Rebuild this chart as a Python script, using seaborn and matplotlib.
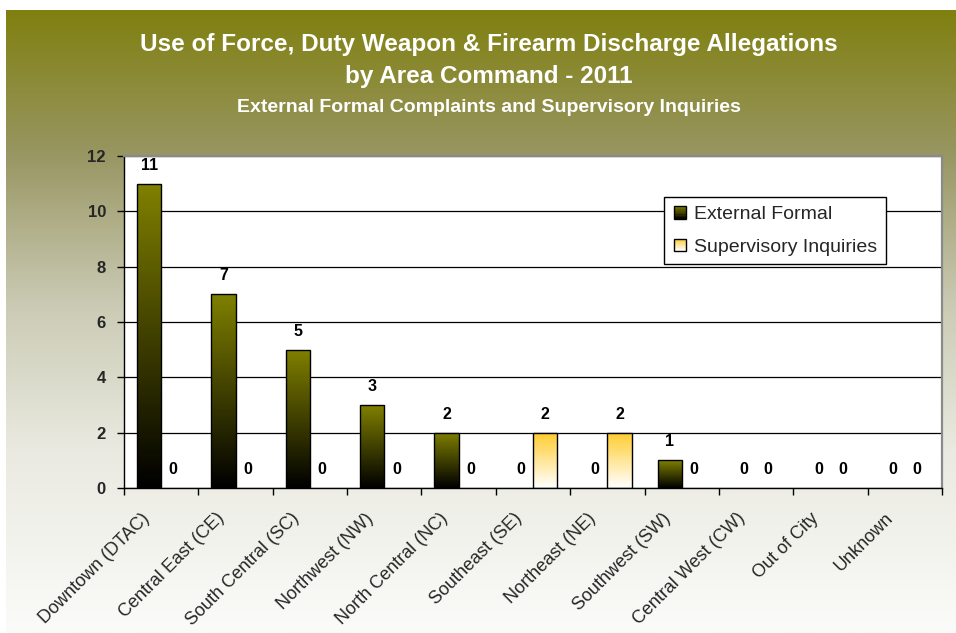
import numpy as np
import pandas as pd
import matplotlib
matplotlib.use("Agg")
import matplotlib.pyplot as plt
import matplotlib.transforms as mtransforms
import seaborn as sns
from matplotlib.legend_handler import HandlerBase
from matplotlib.patches import Rectangle
from matplotlib.colors import LinearSegmentedColormap

# ---- data -------------------------------------------------------------
areas = ["Downtown (DTAC)", "Central East (CE)", "South Central (SC)",
         "Northwest (NW)", "North Central (NC)", "Southeast (SE)",
         "Northeast (NE)", "Southwest (SW)", "Central West (CW)",
         "Out of City", "Unknown"]
external_formal = [11, 7, 5, 3, 2, 0, 0, 1, 0, 0, 0]
supervisory_inquiries = [0, 0, 0, 0, 0, 2, 2, 0, 0, 0, 0]
series_names = ["External Formal", "Supervisory Inquiries"]
y_ticks = [0, 2, 4, 6, 8, 10, 12]

title_lines = ["Use of Force, Duty Weapon & Firearm Discharge Allegations",
               "by Area Command - 2011"]
subtitle = "External Formal Complaints and Supervisory Inquiries"

df = pd.DataFrame({
    "area": areas * 2,
    "count": external_formal + supervisory_inquiries,
    "type": [series_names[0]] * len(areas) + [series_names[1]] * len(areas),
})

# bar fill gradients (top colour, bottom colour)
grad_colors = {
    series_names[0]: ((0.50, 0.50, 0.0), (0.0, 0.0, 0.0)),
    series_names[1]: ((1.0, 0.80, 0.18), (1.0, 1.0, 1.0)),
}

# ---- figure -----------------------------------------------------------
sns.set_style("ticks")
plt.rcParams["font.family"] = ["Liberation Sans", "DejaVu Sans"]

W, H = 956, 633
fig = plt.figure(figsize=(W / 100, H / 100), dpi=100)
fig.patch.set_facecolor("white")

# olive-to-white backdrop panel
bg = fig.add_axes([6 / W, 0, 1 - 6 / W, 1 - 10 / H], zorder=-10)
stops_y = np.array([0.0, 0.23, 0.47, 0.71, 1.0])
stops_c = np.array([[128, 128, 16], [152, 150, 98], [202, 202, 180],
                    [234, 234, 225], [251, 251, 249]]) / 255.0
ys = np.linspace(0, 1, 400)
col = np.stack([np.interp(ys, stops_y, stops_c[:, k]) for k in range(3)], axis=1)
bg.imshow(col[:, None, :], aspect="auto", extent=[0, 1, 0, 1], origin="upper")
bg.set_axis_off()

ax = fig.add_axes([124 / W, (H - 488) / H, (942 - 124) / W, (488 - 156) / H])
ax.set_facecolor("white")

palette = {k: v[0] for k, v in grad_colors.items()}
sns.barplot(data=df, x="area", y="count", hue="type", hue_order=series_names,
            order=areas, palette=palette, width=0.65, edgecolor="black",
            linewidth=1.0, legend=False, ax=ax, saturation=1)

# per-bar vertical gradient fills
for name, cont in zip(series_names, ax.containers):
    top, bot = grad_colors[name]
    cmap = LinearSegmentedColormap.from_list(name, [bot, top])
    for bar in cont:
        h = bar.get_height()
        x0 = bar.get_x()
        w = bar.get_width()
        if h > 0:
            grad = np.linspace(1, 0, 100)[:, None]
            im = ax.imshow(grad, cmap=cmap, vmin=0, vmax=1, aspect="auto",
                           extent=[x0, x0 + w, 0, h], origin="upper",
                           zorder=bar.get_zorder() - 0.05, interpolation="bilinear")
            im.set_clip_path(bar)
        else:
            bar.set_linewidth(0)
        bar.set_facecolor("none")
    ax.bar_label(cont, labels=[f"{int(v)}" for v in cont.datavalues],
                 padding=8, fontsize=11.5, fontweight="bold", color="black")

ax.set_xlim(-0.5, len(areas) - 0.5)
ax.set_ylim(0, 12)
ax.set_yticks(y_ticks)
ax.set_yticklabels([str(t) for t in y_ticks], fontsize=12, fontweight="bold")
ax.yaxis.grid(True, color="black", linewidth=0.9)
ax.set_axisbelow(True)

ax.set_xticks(range(len(areas)))
ax.set_xticklabels(areas, rotation=45, ha="right", va="center",
                   rotation_mode="anchor", fontsize=13)
ax.set_xticks(np.arange(-0.5, len(areas), 1), minor=True)
ax.tick_params(axis="x", which="major", length=0, pad=20)
ax.tick_params(axis="x", which="minor", length=5, width=1, color="black",
               direction="out")
ax.tick_params(axis="y", length=5, width=1, color="black", direction="out", pad=8)
ax.set_xlabel("")
ax.set_ylabel("")

offset = mtransforms.ScaledTranslation(-10 / 72, 0, fig.dpi_scale_trans)
for lbl in ax.get_xticklabels():
    lbl.set_transform(lbl.get_transform() + offset)

for s in ["left", "bottom"]:
    ax.spines[s].set_color("black")
    ax.spines[s].set_linewidth(1.0)
for s in ["top", "right"]:
    ax.spines[s].set_visible(True)
    ax.spines[s].set_color("#8a8a8a")
    ax.spines[s].set_linewidth(1.6)


class GradientSquare(HandlerBase):
    def __init__(self, top, bot):
        super().__init__()
        self.top, self.bot = np.array(top), np.array(bot)

    def create_artists(self, legend, orig_handle, xdescent, ydescent,
                       width, height, fontsize, trans):
        size = 9
        x0 = -xdescent + (width - size) / 2
        y0 = -ydescent + (height - size) / 2
        arts = []
        n = 8
        for i in range(n):
            t = (i + 0.5) / n
            c = self.bot * (1 - t) + self.top * t
            arts.append(Rectangle((x0, y0 + i * size / n), size, size / n,
                                  facecolor=c, edgecolor="none", transform=trans))
        arts.append(Rectangle((x0, y0), size, size, facecolor="none",
                              edgecolor="black", linewidth=1.0, transform=trans))
        return arts


handles = [Rectangle((0, 0), 1, 1) for _ in series_names]
handler_map = {h: GradientSquare(*grad_colors[n]) for h, n in zip(handles, series_names)}
leg = fig.legend(handles, series_names, handler_map=handler_map,
                 loc="upper left", bbox_to_anchor=(664 / W, 1 - 197 / H),
                 fontsize=14, frameon=True, fancybox=False, borderaxespad=0,
                 handlelength=0.75, handletextpad=0.35, labelspacing=0.75,
                 borderpad=0.45)
leg.get_frame().set_edgecolor("black")
leg.get_frame().set_linewidth(1.0)
leg.get_frame().set_facecolor("white")
leg.get_frame().set_alpha(1)

cx = 489 / W
fig.text(cx, 1 - 45 / H, title_lines[0], ha="center", va="center",
         fontsize=17.5, fontweight="bold", color="white")
fig.text(cx, 1 - 77 / H, title_lines[1], ha="center", va="center",
         fontsize=17.5, fontweight="bold", color="white")
fig.text(cx, 1 - 107 / H, subtitle, ha="center", va="center",
         fontsize=14, fontweight="bold", color="white")

fig.savefig("out.png", dpi=100)
